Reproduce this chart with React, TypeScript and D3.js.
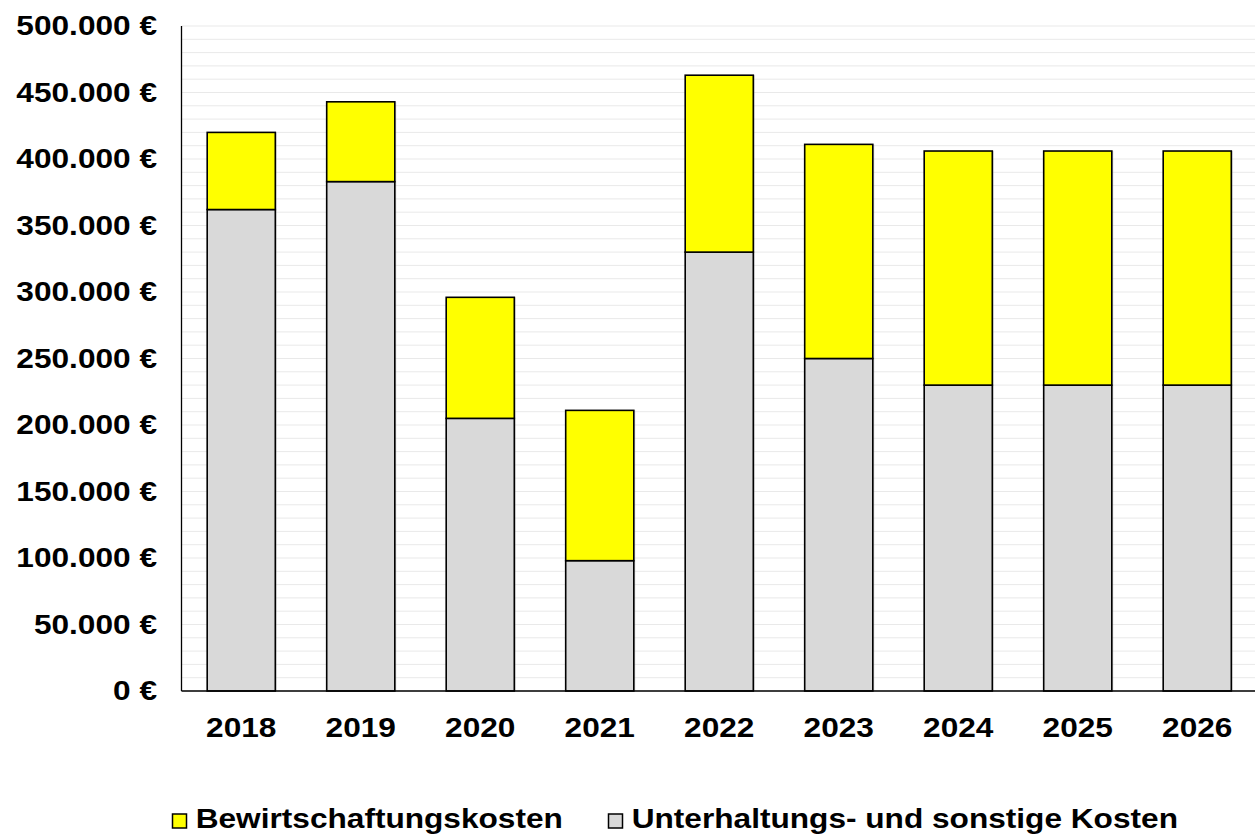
import React from 'react';
import * as d3 from 'd3';

const years = ['2018', '2019', '2020', '2021', '2022', '2023', '2024', '2025', '2026'];
const unterhaltung = [362000, 383000, 205000, 98000, 330000, 250000, 230000, 230000, 230000];
const bewirtschaftung = [58000, 60000, 91000, 113000, 133000, 161000, 176000, 176000, 176000];
const yTicks = [0, 50000, 100000, 150000, 200000, 250000, 300000, 350000, 400000, 450000, 500000];
const seriesKeys = ['unterhaltung', 'bewirtschaftung'];
const seriesLabels: Record<string, string> = {
  bewirtschaftung: 'Bewirtschaftungskosten',
  unterhaltung: 'Unterhaltungs- und sonstige Kosten',
};
const colors: Record<string, string> = { unterhaltung: '#d9d9d9', bewirtschaftung: '#ffff00' };

const W = 1255;
const H = 836;
const left = 181.5;
const right = 1257;
const top = 26;
const bottom = 691;
const FONT = "'Liberation Sans', Arial, sans-serif";
const FS = 27.5;
const SX = 1.15;

export default function App() {
  const rows = years.map((y, i) => ({ year: y, unterhaltung: unterhaltung[i], bewirtschaftung: bewirtschaftung[i] }));
  const stack = d3.stack<any>().keys(seriesKeys)(rows);
  const x = d3.scaleBand().domain(years).range([left, right]).paddingInner(0.43).paddingOuter(0.215);
  const y = d3.scaleLinear().domain([0, 500000]).range([bottom, top]);
  const grid = d3.range(0, 500001, 10000);
  const fmt = (v: number) => d3.format(',')(v).replace(/,/g, '.') + ' €';

  return (
    <svg width={W} height={H} style={{ position: 'absolute', left: 0, top: 0, background: '#fff' }} fontFamily={FONT}>
      <rect x={0} y={0} width={W} height={H} fill="#fff" />
      {grid.map((g) => (
        <line key={g} x1={left} x2={W} y1={y(g)} y2={y(g)} stroke="#e9e9e9" strokeWidth={1} />
      ))}
      {stack.map((s) => (
        <g key={s.key}>
          {s.map((d, i) => (
            <g key={i}>
              <rect x={(x(years[i]) as number) + 1.5} y={y(d[1])} width={x.bandwidth()} height={y(d[0]) - y(d[1])} fill="#9a9a9a" opacity={0.35} />
              <rect x={x(years[i])} y={y(d[1])} width={x.bandwidth()} height={y(d[0]) - y(d[1])} fill={colors[s.key]} stroke="#000" strokeWidth={1.6} />
            </g>
          ))}
        </g>
      ))}
      <line x1={left} x2={left} y1={top} y2={bottom} stroke="#000" strokeWidth={1.3} />
      <line x1={left} x2={W} y1={bottom} y2={bottom} stroke="#000" strokeWidth={1.3} />
      {yTicks.map((t) => (
        <text key={t} transform={`translate(157,${y(t) + 9}) scale(${SX},1)`} textAnchor="end" fontSize={FS} fontWeight="bold" fill="#000">
          {fmt(t)}
        </text>
      ))}
      {years.map((yr) => (
        <text key={yr} transform={`translate(${(x(yr) as number) + x.bandwidth() / 2},737) scale(${SX},1)`} textAnchor="middle" fontSize={FS} fontWeight="bold" fill="#000">
          {yr}
        </text>
      ))}
      {[
        { key: 'bewirtschaftung', sx: 172.5, tx: 195.7 },
        { key: 'unterhaltung', sx: 608.5, tx: 631.7 },
      ].map((l) => (
        <g key={l.key}>
          <rect x={l.sx} y={814} width={14} height={14} fill={colors[l.key]} stroke="#000" strokeWidth={1.5} />
          <text transform={`translate(${l.tx},828) scale(${SX},1)`} fontSize={FS} fontWeight="bold" fill="#000">
            {seriesLabels[l.key]}
          </text>
        </g>
      ))}
    </svg>
  );
}
